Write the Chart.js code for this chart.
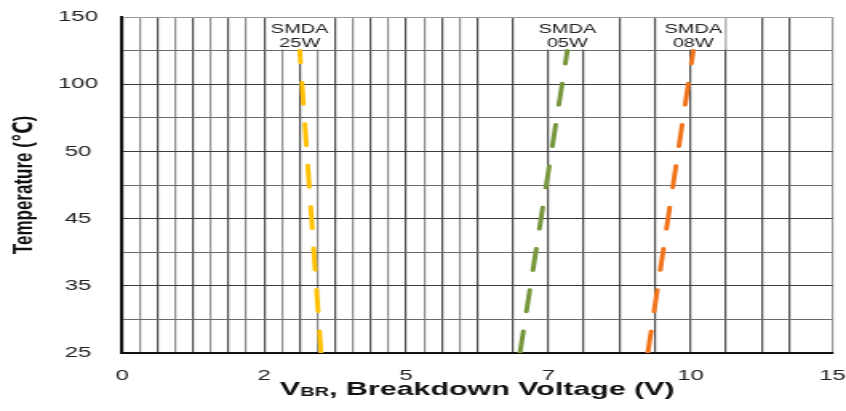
<!DOCTYPE html>
<html>
<head>
<meta charset="utf-8">
<script src="https://cdn.jsdelivr.net/npm/chart.js@4.4.1/dist/chart.umd.min.js"></script>
<style>
    html, body { margin: 0; padding: 0; background: #fff; overflow: hidden; }
    #wrap { width: 846px; height: 411px; overflow: hidden; }
    /* the original picture is stretched sideways, so draw narrow and widen */
    #chart { display: block; transform: scaleX(1.5992); transform-origin: 0 0; }
</style>
</head>
<body>
<div id="wrap"><canvas id="chart" width="529" height="411"></canvas></div>
<script>
// axis labels as printed on the chart
const tempTicks = [25, 35, 45, 50, 100, 150];
const voltTicks = [0, 2, 5, 7, 10, 15];

// series: breakdown voltage (V) at 25 and 125 °C
const seriesLabels = ['SMDA\n25W', 'SMDA\n05W', 'SMDA\n08W'];
const smda25wVolt = [3.2, 2.75];
const smda05wVolt = [6.6, 7.4];
const smda08wVolt = [9.1, 10.1];
const seriesTemp = [25, 125];

const seriesColors = ['#FFC000', '#76963C', '#F0731A'];
const FONT = '"Liberation Sans", Arial, "DejaVu Sans", sans-serif';

// ticks are evenly spaced whatever their value, so map a value onto its tick slot
function axisPos(v, ticks) {
    for (let i = 0; i < ticks.length - 1; i++) {
        if (v <= ticks[i + 1]) return i + (v - ticks[i]) / (ticks[i + 1] - ticks[i]);
    }
    return ticks.length - 1;
}

function toPoints(volts) {
    return volts.map((v, i) => ({ x: axisPos(v, voltTicks), y: axisPos(seriesTemp[i], tempTicks) }));
}

// vertical grid lines: fine up to the middle, coarser after
const xGrid = [];
for (let i = 0; i <= 20; i++) xGrid.push(i * 0.125);
xGrid.push(2.75, 3, 3.25, 3.5, 3.75, 4, 4.25, 4.5, 4.7, 5);

const labelBoxes = {
    id: 'labelBoxes',
    beforeDatasetsDraw(chart) {
        const { ctx, chartArea } = chart;
        ctx.save();
        ctx.font = '12.5px ' + FONT;
        ctx.textAlign = 'center';
        ctx.textBaseline = 'alphabetic';
        chart.data.datasets.forEach((ds, i) => {
            const meta = chart.getDatasetMeta(i);
            const pt = meta.data[meta.data.length - 1];
            const lines = ds.label.split('\n');
            const w = Math.max(...lines.map(l => ctx.measureText(l).width)) + 4;
            ctx.fillStyle = '#fff';
            ctx.fillRect(pt.x - w / 2, chartArea.top + 1, w, pt.y - chartArea.top - 2);
            ctx.fillStyle = '#222';
            ctx.fillText(lines[0], pt.x, chartArea.top + 15.7);
            ctx.fillText(lines[1], pt.x, chartArea.top + 30.3);
        });
        ctx.restore();
    }
};

// x title needs a subscript, draw it by hand
const xTitle = {
    id: 'xTitle',
    afterDraw(chart) {
        const { ctx, chartArea } = chart;
        const big = 'bold 19px ' + FONT;
        const small = 'bold 12.5px ' + FONT;
        const rest = ', Breakdown Voltage (V)';
        ctx.save();
        ctx.fillStyle = '#111';
        ctx.textAlign = 'left';
        ctx.textBaseline = 'alphabetic';
        ctx.font = big;
        const wV = ctx.measureText('V').width;
        const wRest = ctx.measureText(rest).width;
        ctx.font = small;
        const wSub = ctx.measureText('BR').width;
        let x = (chartArea.left + chartArea.right) / 2 - (wV + wSub + wRest) / 2;
        const y = 395;
        ctx.font = big;
        ctx.fillText('V', x, y);
        x += wV;
        ctx.font = small;
        ctx.fillText('BR', x, y + 0.8);
        x += wSub;
        ctx.font = big;
        ctx.fillText(rest, x, y);
        ctx.restore();
    }
};

const seriesVolts = [smda25wVolt, smda05wVolt, smda08wVolt];

new Chart(document.getElementById('chart'), {
    type: 'line',
    data: {
        datasets: seriesVolts.map((volts, i) => ({
            label: seriesLabels[i],
            data: toPoints(volts),
            borderColor: seriesColors[i],
            backgroundColor: seriesColors[i],
            borderWidth: 3,
            borderDash: [22, 19.5],
            borderCapStyle: 'round',
            pointRadius: 0,
            tension: 0,
            fill: false
        }))
    },
    options: {
        responsive: false,
        animation: false,
        devicePixelRatio: 1,
        layout: { padding: { top: 17, right: 8.4, bottom: 0, left: 0 } },
        plugins: {
            legend: { display: false },
            tooltip: { enabled: false }
        },
        scales: {
            x: {
                type: 'linear',
                min: 0,
                max: 5,
                afterBuildTicks: (scale) => {
                    scale.ticks = xGrid.map(v => ({ value: v }));
                },
                afterFit: (scale) => { scale.height = 58; },
                ticks: {
                    autoSkip: false,
                    maxRotation: 0,
                    padding: 0,
                    color: '#222',
                    font: { family: FONT, size: 15 },
                    callback: (value) => Number.isInteger(value) ? String(voltTicks[value]) : ''
                },
                grid: {
                    drawTicks: true,
                    tickLength: 14,
                    tickColor: 'rgba(0,0,0,0)',
                    lineWidth: 1.2,
                    color: (ctx) => {
                        const v = ctx.tick.value;
                        if (v === 5) return '#999';
                        if (v <= 2.5 && Math.round(v * 8) % 2 === 1) return '#8e8e8e';
                        return '#4e4e4e';
                    }
                },
                border: { display: true, color: '#111', width: 2 }
            },
            y: {
                type: 'linear',
                min: 0,
                max: 5,
                afterFit: (scale) => { scale.width = 76.3; },
                ticks: {
                    stepSize: 0.5,
                    crossAlign: 'center',
                    padding: 0,
                    color: '#222',
                    font: { family: FONT, size: 15 },
                    callback: (value) => Number.isInteger(value) ? String(tempTicks[value]) : ''
                },
                grid: {
                    drawTicks: true,
                    tickLength: 15,
                    tickColor: 'rgba(0,0,0,0)',
                    lineWidth: 1,
                    color: (ctx) => {
                        const v = ctx.tick.value;
                        if (v === 5) return '#999';
                        return Number.isInteger(v) ? '#3a3a3a' : '#6a6a6a';
                    }
                },
                border: { display: true, color: '#111', width: 2 },
                title: {
                    display: true,
                    text: 'Temperature (℃)',
                    color: '#111',
                    font: { family: FONT, size: 17, weight: 'bold' },
                    padding: { top: 5, bottom: 0 }
                }
            }
        }
    },
    plugins: [labelBoxes, xTitle]
});
</script>
</body>
</html>
